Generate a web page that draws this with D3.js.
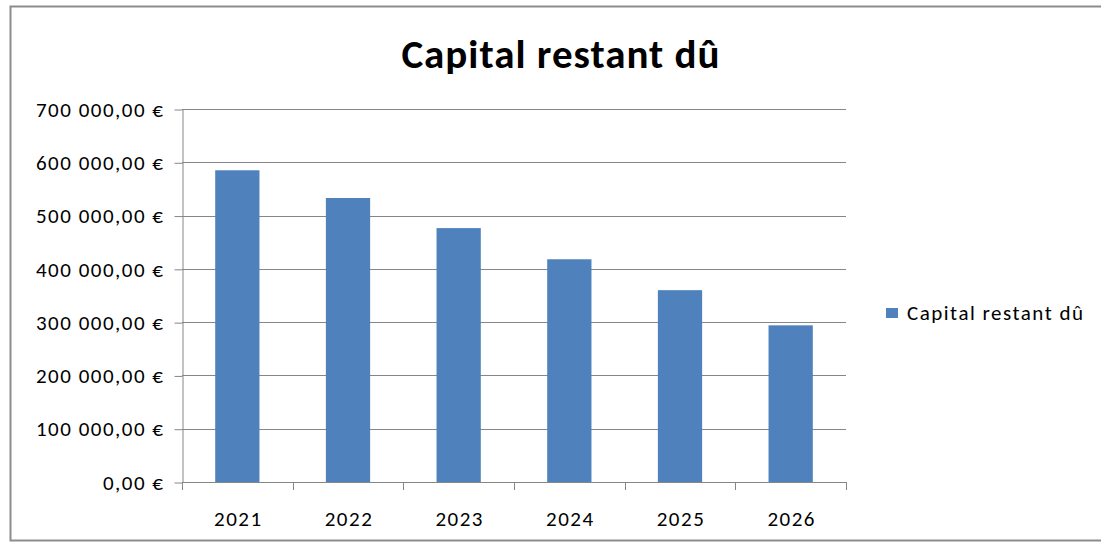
<!DOCTYPE html>
<html>
<head>
    <meta charset="utf-8">
    <title>Capital restant dû</title>
    <style>
        body { margin: 0; background: #fff; }
        text { font-family: Carlito, Lato, sans-serif; fill: #000; letter-spacing: 1.5px; }
        .grid line { stroke: #868686; stroke-width: 1px; }
        .axis path, .axis line { stroke: #868686; stroke-width: 1px; }
    </style>
</head>
<body>
    <div id="chart"></div>

    <script src="https://d3js.org/d3.v7.min.js"></script>
<script>
    // données
    var years = ["2021", "2022", "2023", "2024", "2025", "2026"];
    var capital = [585000, 533000, 476500, 418000, 360000, 294000];
    var yTicks = [0, 100000, 200000, 300000, 400000, 500000, 600000, 700000];
    var seriesName = "Capital restant dû";

    var width = 1101, height = 545;
    var plot = { left: 182, right: 846, top: 109, bottom: 482 };

    var svg = d3.select("#chart").append("svg")
        .attr("width", width)
        .attr("height", height);

    // cadre du graphique
    svg.append("rect")
        .attr("x", 10.5).attr("y", 6.5)
        .attr("width", 1100).attr("height", 534)
        .attr("fill", "#fff")
        .attr("stroke", "#8c8c8c")
        .attr("stroke-width", 2);

    // titre
    svg.append("text")
        .attr("x", 561).attr("y", 68)
        .attr("text-anchor", "middle")
        .style("font-size", "41px")
        .style("font-weight", "bold")
        .style("letter-spacing", "1px")
        .text("Capital restant dû");

    var x = d3.scaleBand()
        .domain(years)
        .range([plot.left, plot.right])
        .paddingInner(0.6)
        .paddingOuter(0.3);

    var y = d3.scaleLinear()
        .domain([0, 700000])
        .range([plot.bottom, plot.top]);

    var fr = d3.formatLocale({
        decimal: ",", thousands: "\u00a0", grouping: [3], currency: ["", "\u00a0€"]
    });
    var fmt = fr.format("$,.2f");

    // lignes de quadrillage
    svg.append("g").attr("class", "grid")
        .selectAll("line")
        .data(yTicks.filter(function(d) { return d > 0; }))
        .enter().append("line")
        .attr("x1", plot.left).attr("x2", plot.right)
        .attr("y1", function(d) { return Math.round(y(d)) + 0.5; })
        .attr("y2", function(d) { return Math.round(y(d)) + 0.5; });

    // barres
    svg.append("g")
        .selectAll("rect")
        .data(capital)
        .enter().append("rect")
        .attr("x", function(d, i) { return x(years[i]); })
        .attr("y", function(d) { return y(d); })
        .attr("width", x.bandwidth())
        .attr("height", function(d) { return plot.bottom - y(d); })
        .attr("fill", "#4f81bd");

    // axe Y
    var yAxis = svg.append("g").attr("class", "axis")
        .attr("transform", "translate(" + (plot.left + 0.5) + ",0.5)")
        .call(d3.axisLeft(y).tickValues(yTicks).tickSize(8).tickSizeOuter(0).tickFormat(fmt).tickPadding(10));
    yAxis.selectAll("text").style("font-size", "21px");

    // axe X (graduations entre les catégories)
    var xg = svg.append("g").attr("class", "axis");
    xg.append("line")
        .attr("x1", plot.left).attr("x2", plot.right)
        .attr("y1", plot.bottom + 0.5).attr("y2", plot.bottom + 0.5);
    var bounds = d3.range(years.length + 1).map(function(i) { return plot.left + i * (plot.right - plot.left) / years.length; });
    xg.selectAll(".tk")
        .data(bounds)
        .enter().append("line")
        .attr("x1", function(d) { return Math.round(d) + 0.5; })
        .attr("x2", function(d) { return Math.round(d) + 0.5; })
        .attr("y1", plot.bottom).attr("y2", plot.bottom + 8);
    xg.selectAll("text")
        .data(years)
        .enter().append("text")
        .attr("x", function(d) { return x(d) + x.bandwidth() / 2 + 1; })
        .attr("y", 526)
        .attr("text-anchor", "middle")
        .style("font-size", "21px")
        .text(function(d) { return d; });

    // légende
    var legend = svg.append("g").attr("transform", "translate(886,308)");
    legend.append("rect")
        .attr("width", 12).attr("height", 10)
        .attr("fill", "#4f81bd");
    legend.append("text")
        .attr("x", 21).attr("y", 12)
        .style("font-size", "21px")
        .text(seriesName);
</script>

</body>
</html>
